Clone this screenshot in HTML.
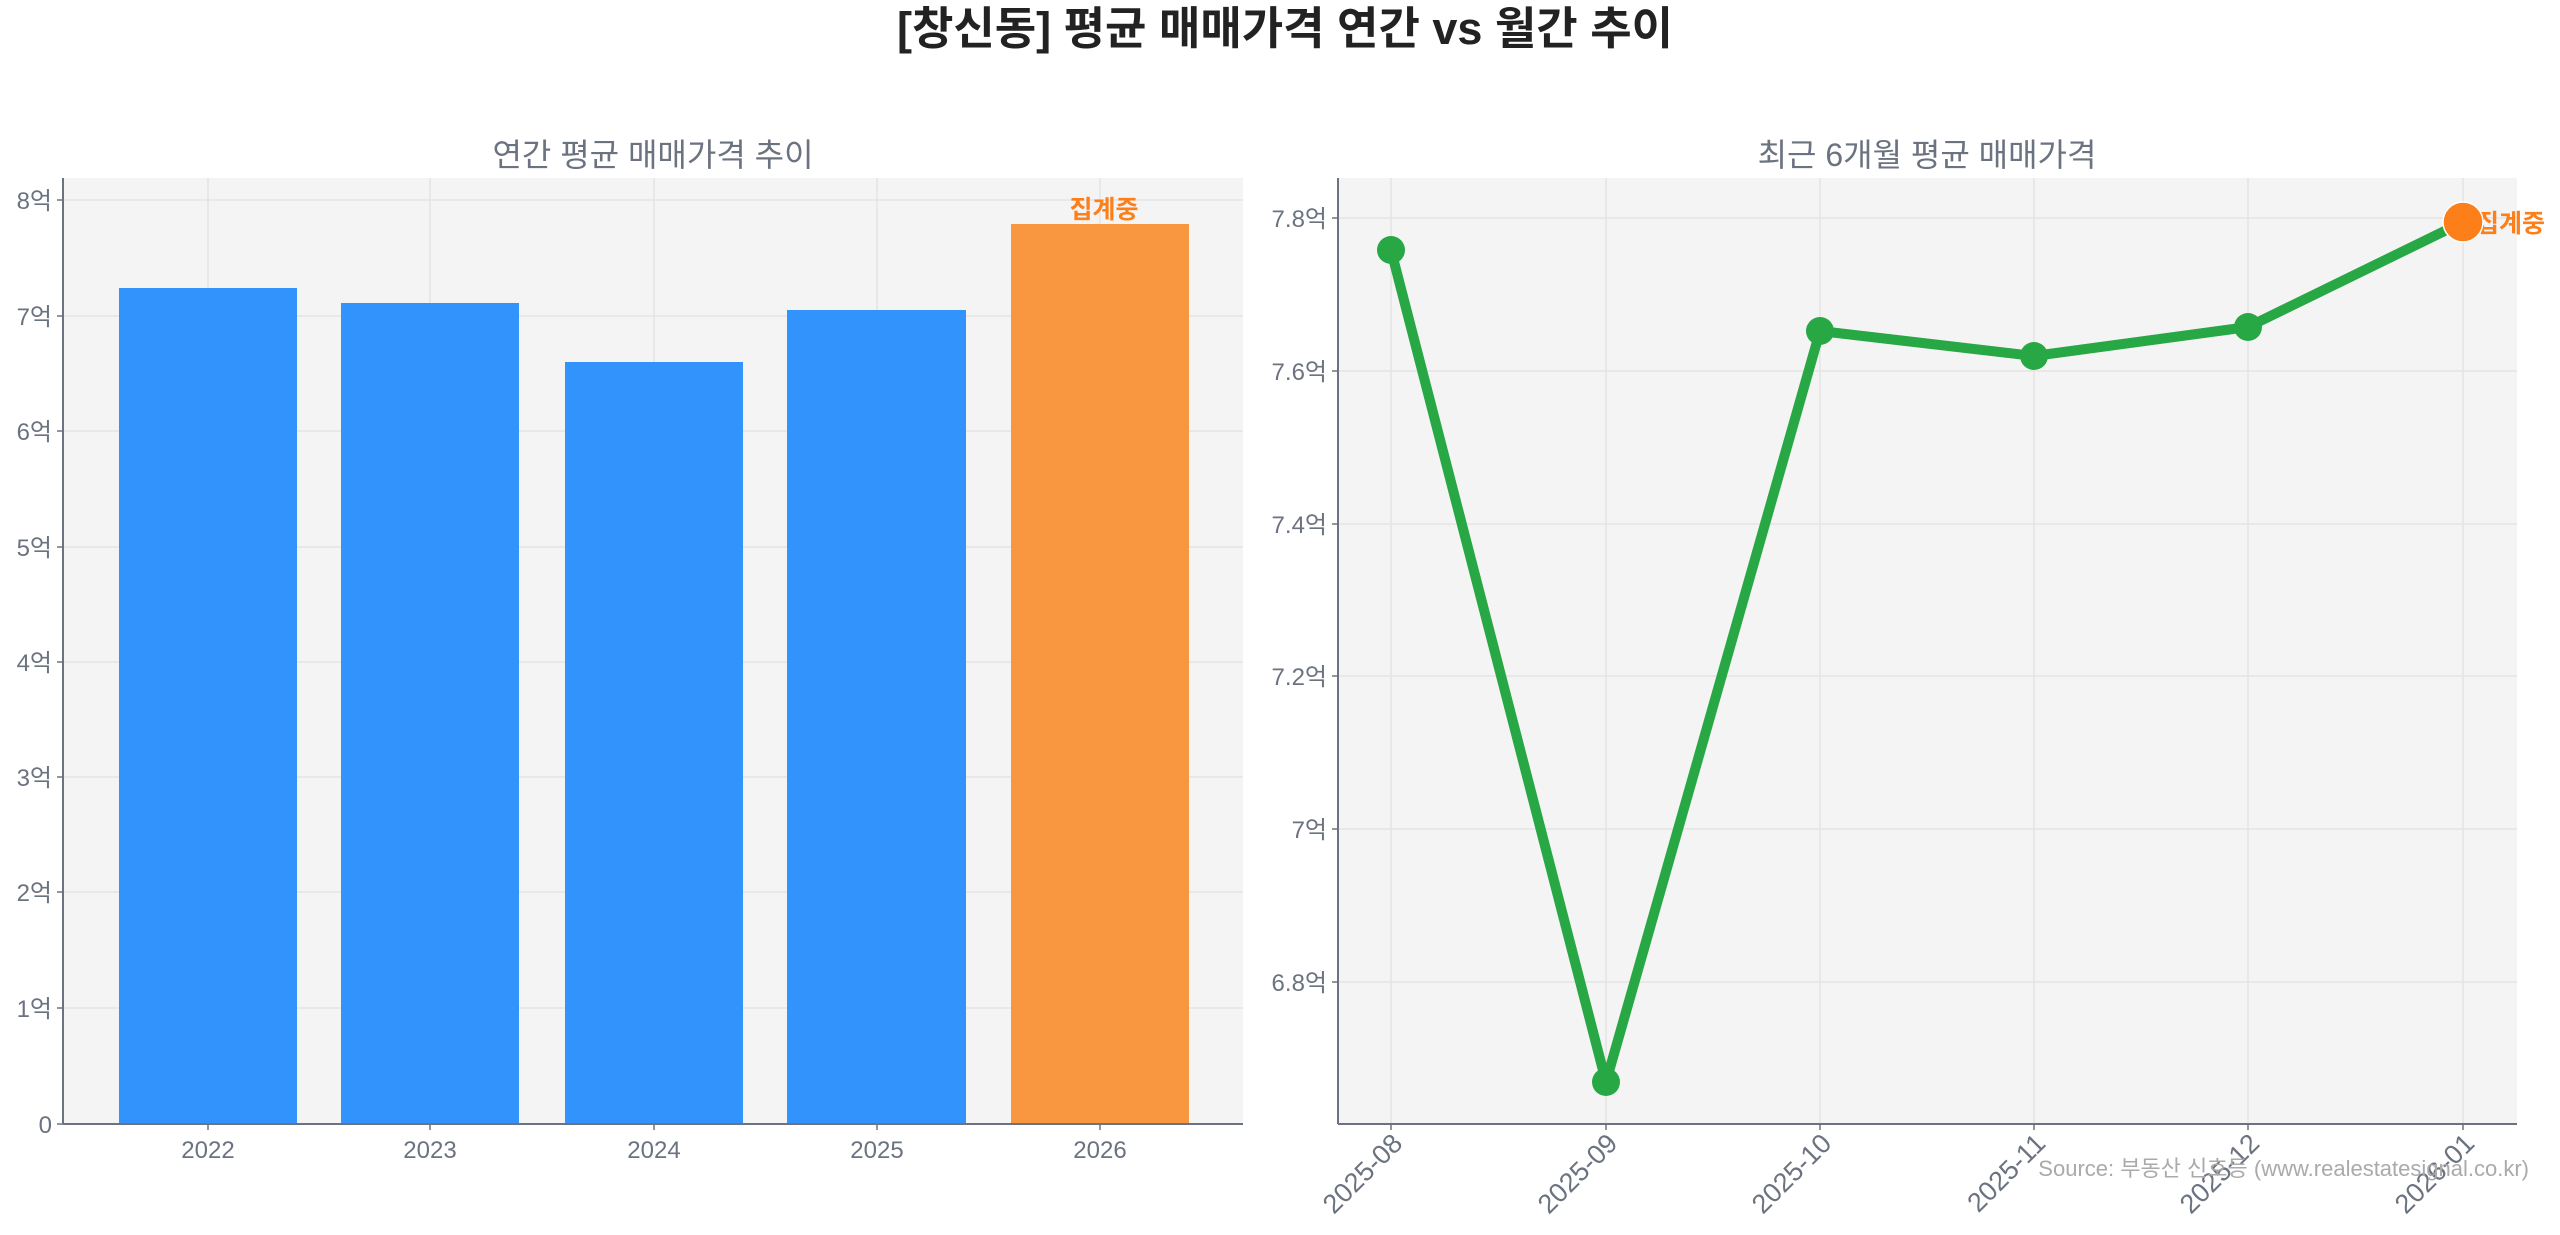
<!DOCTYPE html>
<html><head><meta charset="utf-8">
<style>
html,body{margin:0;padding:0;background:#fff;}
svg{display:block;}
text{font-family:"Liberation Sans","Noto Sans CJK KR",sans-serif;}
</style></head>
<body>
<svg width="2560" height="1235" viewBox="0 0 2560 1235" xmlns="http://www.w3.org/2000/svg">
<rect width="2560" height="1235" fill="#fff"/>
<text x="1285" y="44" font-size="45" font-weight="bold" fill="#222" text-anchor="middle">[창신동] 평균 매매가격 연간 vs 월간 추이</text>

<!-- Left axes -->
<text x="653" y="166" font-size="32" fill="#6b7280" text-anchor="middle">연간 평균 매매가격 추이</text>
<rect x="63" y="178" width="1180" height="946" fill="#f4f4f4"/>
<g stroke="#e4e4e4" stroke-width="1.5">
<line x1="208" y1="178" x2="208" y2="1124"/><line x1="430" y1="178" x2="430" y2="1124"/>
<line x1="654" y1="178" x2="654" y2="1124"/><line x1="877" y1="178" x2="877" y2="1124"/>
<line x1="1100" y1="178" x2="1100" y2="1124"/>
<line x1="63" y1="1008" x2="1243" y2="1008"/><line x1="63" y1="892" x2="1243" y2="892"/>
<line x1="63" y1="777" x2="1243" y2="777"/><line x1="63" y1="662" x2="1243" y2="662"/>
<line x1="63" y1="547" x2="1243" y2="547"/><line x1="63" y1="431" x2="1243" y2="431"/>
<line x1="63" y1="316" x2="1243" y2="316"/><line x1="63" y1="200" x2="1243" y2="200"/>
</g>
<g fill="#3193fb">
<rect x="119" y="288" width="178" height="836"/>
<rect x="341" y="303" width="178" height="821"/>
<rect x="565" y="362" width="178" height="762"/>
<rect x="787" y="310" width="179" height="814"/>
</g>
<rect x="1011" y="224" width="178" height="900" fill="#f99640"/>
<text x="1104" y="218" font-size="25" font-weight="bold" fill="#fd7f1a" text-anchor="middle">집계중</text>
<g stroke="#6b7280" stroke-width="2">
<line x1="63" y1="178" x2="63" y2="1124"/><line x1="63" y1="1124" x2="1243" y2="1124"/>
</g>
<g stroke="#6b7280" stroke-width="1.5">
<line x1="57" y1="1124" x2="63" y2="1124"/><line x1="57" y1="1008" x2="63" y2="1008"/><line x1="57" y1="892" x2="63" y2="892"/>
<line x1="57" y1="777" x2="63" y2="777"/><line x1="57" y1="662" x2="63" y2="662"/><line x1="57" y1="547" x2="63" y2="547"/>
<line x1="57" y1="431" x2="63" y2="431"/><line x1="57" y1="316" x2="63" y2="316"/><line x1="57" y1="200" x2="63" y2="200"/>
<line x1="208" y1="1124" x2="208" y2="1130"/><line x1="430" y1="1124" x2="430" y2="1130"/><line x1="654" y1="1124" x2="654" y2="1130"/>
<line x1="877" y1="1124" x2="877" y2="1130"/><line x1="1100" y1="1124" x2="1100" y2="1130"/>
</g>
<g font-size="24" fill="#6b7280" text-anchor="end">
<text x="52" y="1133">0</text><text x="52" y="1017">1억</text><text x="52" y="901">2억</text>
<text x="52" y="786">3억</text><text x="52" y="671">4억</text><text x="52" y="556">5억</text>
<text x="52" y="440">6억</text><text x="52" y="325">7억</text><text x="52" y="209">8억</text>
</g>
<g font-size="24" fill="#6b7280" text-anchor="middle">
<text x="208" y="1158">2022</text><text x="430" y="1158">2023</text><text x="654" y="1158">2024</text>
<text x="877" y="1158">2025</text><text x="1100" y="1158">2026</text>
</g>

<!-- Right axes -->
<text x="1927" y="166" font-size="32" fill="#6b7280" text-anchor="middle">최근 6개월 평균 매매가격</text>
<rect x="1338" y="178" width="1179" height="946" fill="#f4f4f4"/>
<g stroke="#e4e4e4" stroke-width="1.5">
<line x1="1391" y1="178" x2="1391" y2="1124"/><line x1="1606" y1="178" x2="1606" y2="1124"/>
<line x1="1820" y1="178" x2="1820" y2="1124"/><line x1="2034" y1="178" x2="2034" y2="1124"/>
<line x1="2248" y1="178" x2="2248" y2="1124"/><line x1="2463" y1="178" x2="2463" y2="1124"/>
<line x1="1338" y1="982" x2="2517" y2="982"/><line x1="1338" y1="829" x2="2517" y2="829"/>
<line x1="1338" y1="676" x2="2517" y2="676"/><line x1="1338" y1="524" x2="2517" y2="524"/>
<line x1="1338" y1="371" x2="2517" y2="371"/><line x1="1338" y1="218" x2="2517" y2="218"/>
</g>
<polyline points="1391,250 1606,1082 1820,331 2034,356 2248,327 2463,222" fill="none" stroke="#28a745" stroke-width="10" stroke-linejoin="round"/>
<g fill="#28a745">
<circle cx="1391" cy="250" r="14"/><circle cx="1606" cy="1082" r="14"/><circle cx="1820" cy="331" r="14"/>
<circle cx="2034" cy="356" r="14"/><circle cx="2248" cy="327" r="14"/>
</g>
<text x="2476" y="232" font-size="25" font-weight="bold" fill="#fd7f1a">집계중</text>
<circle cx="2463" cy="222" r="20" fill="#fd7f1a" stroke="#fff" stroke-width="1.5"/>
<g stroke="#6b7280" stroke-width="2">
<line x1="1338" y1="178" x2="1338" y2="1124"/><line x1="1338" y1="1124" x2="2517" y2="1124"/>
</g>
<g stroke="#6b7280" stroke-width="1.5">
<line x1="1332" y1="982" x2="1338" y2="982"/><line x1="1332" y1="829" x2="1338" y2="829"/><line x1="1332" y1="676" x2="1338" y2="676"/>
<line x1="1332" y1="524" x2="1338" y2="524"/><line x1="1332" y1="371" x2="1338" y2="371"/><line x1="1332" y1="218" x2="1338" y2="218"/>
<line x1="1391" y1="1124" x2="1391" y2="1130"/><line x1="1606" y1="1124" x2="1606" y2="1130"/><line x1="1820" y1="1124" x2="1820" y2="1130"/>
<line x1="2034" y1="1124" x2="2034" y2="1130"/><line x1="2248" y1="1124" x2="2248" y2="1130"/><line x1="2463" y1="1124" x2="2463" y2="1130"/>
</g>
<g font-size="24" fill="#6b7280" text-anchor="end">
<text x="1327" y="991">6.8억</text><text x="1327" y="838">7억</text><text x="1327" y="685">7.2억</text>
<text x="1327" y="533">7.4억</text><text x="1327" y="380">7.6억</text><text x="1327" y="227">7.8억</text>
</g>
<g font-size="27" fill="#6b7280" text-anchor="end">
<text transform="translate(1404,1145) rotate(-45)">2025-08</text>
<text transform="translate(1619,1145) rotate(-45)">2025-09</text>
<text transform="translate(1833,1145) rotate(-45)">2025-10</text>
<text transform="translate(2047,1145) rotate(-45)">2025-11</text>
<text transform="translate(2261,1145) rotate(-45)">2025-12</text>
<text transform="translate(2476,1145) rotate(-45)">2026-01</text>
</g>
<text x="2529" y="1176" font-size="22" fill="#aaaaaa" text-anchor="end">Source: 부동산 신호등 (www.realestatesignal.co.kr)</text>
</svg>
</body></html>
